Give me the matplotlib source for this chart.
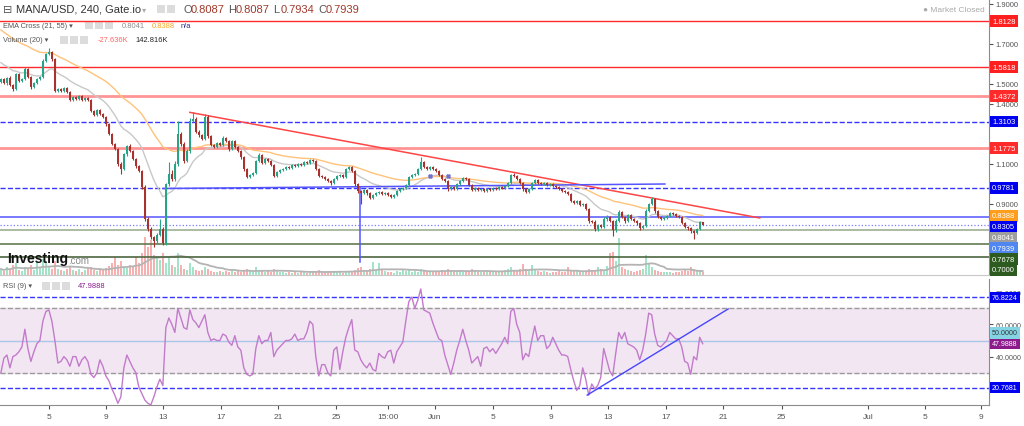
import numpy as np
import pandas as pd
import matplotlib.pyplot as plt
from matplotlib.patches import Rectangle

plt.rcParams['font.family'] = ['Liberation Sans', 'DejaVu Sans']

W, H = 1024, 427

# ---- candle data ----
open_first = 1.510
closes = [
    1.523, 1.503, 1.528, 1.493, 1.473, 1.548, 1.513, 1.523, 1.573, 1.533,
    1.483, 1.503, 1.523, 1.533, 1.613, 1.648, 1.658, 1.623, 1.463, 1.473,
    1.463, 1.478, 1.458, 1.418, 1.433, 1.423, 1.438, 1.418, 1.428, 1.418,
    1.363, 1.343, 1.368, 1.348, 1.333, 1.298, 1.248, 1.198, 1.173, 1.098,
    1.073, 1.148, 1.188, 1.163, 1.123, 1.088, 1.063, 0.983, 0.823, 0.773,
    0.733, 0.713, 0.743, 0.773, 0.703, 0.998, 1.048, 1.023, 1.098, 1.248,
    1.198, 1.113, 1.163, 1.313, 1.323, 1.258, 1.243, 1.223, 1.333, 1.238,
    1.193, 1.183, 1.203, 1.193, 1.228, 1.213, 1.173, 1.213, 1.183, 1.163,
    1.133, 1.073, 1.033, 1.043, 1.053, 1.113, 1.143, 1.103, 1.123, 1.113,
    1.093, 1.038, 1.058, 1.068, 1.073, 1.083, 1.078, 1.093, 1.088, 1.098,
    1.093, 1.108, 1.103, 1.118, 1.113, 1.073, 1.038, 1.033, 1.023, 1.013,
    1.003, 1.023, 1.038, 1.043, 1.033, 1.073, 1.083, 1.063, 0.998, 0.963,
    0.953, 0.968, 0.953, 0.928, 0.943, 0.953, 0.958, 0.948, 0.953, 0.943,
    0.933, 0.943, 0.963, 0.973, 0.978, 0.993, 1.033, 1.043, 1.048, 1.073,
    1.108, 1.083, 1.073, 1.083, 1.073, 1.063, 1.043, 1.023, 1.013, 0.973,
    0.983, 0.973, 0.998, 1.013, 1.028, 1.023, 0.993, 0.968, 0.978, 0.968,
    0.973, 0.963, 0.973, 0.968, 0.978, 0.973, 0.983, 0.978, 0.988, 1.003,
    1.043, 1.038, 1.023, 1.003, 0.973, 0.958, 0.973, 1.003, 1.018, 1.003,
    0.998, 1.003, 0.993, 0.998, 0.988, 0.983, 0.973, 0.963, 0.958, 0.948,
    0.913, 0.903, 0.913, 0.893, 0.898, 0.873, 0.813, 0.808, 0.773, 0.793,
    0.783, 0.823, 0.833, 0.813, 0.768, 0.813, 0.858, 0.833, 0.813, 0.843,
    0.823, 0.813, 0.803, 0.778, 0.788, 0.863, 0.898, 0.923, 0.863, 0.833,
    0.823, 0.828, 0.838, 0.853, 0.848, 0.838, 0.833, 0.803, 0.783, 0.778,
    0.763, 0.753, 0.773, 0.809, 0.7939,
]
# wick lengths above / below the body, in 1/1000 of price
upper_wick = [
    5, 6, 4, 8, 5, 7, 4, 6, 9, 5,
    4, 6, 5, 7, 8, 6, 20, 5, 5, 6,
    4, 5, 6, 4, 7, 3, 5, 4, 6, 3,
    5, 4, 6, 5, 4, 6, 5, 7, 6, 5,
    8, 7, 6, 8, 5, 6, 7, 6, 8, 10,
    8, 6, 10, 50, 8, 6, 60, 20, 15, 65,
    12, 10, 8, 15, 35, 10, 8, 7, 15, 8,
    6, 5, 6, 5, 8, 6, 5, 6, 5, 6,
    5, 6, 5, 4, 6, 5, 8, 5, 6, 4,
    5, 6, 4, 3, 4, 5, 3, 4, 3, 5,
    4, 3, 5, 4, 6, 4, 3, 4, 3, 4,
    3, 4, 5, 3, 4, 6, 5, 4, 5, 4,
    6, 5, 4, 3, 5, 4, 3, 4, 3, 4,
    3, 4, 3, 5, 4, 6, 5, 4, 5, 6,
    25, 6, 5, 4, 5, 4, 5, 4, 3, 5,
    4, 3, 5, 4, 6, 4, 3, 4, 3, 4,
    3, 4, 3, 4, 3, 4, 3, 4, 5, 4,
    6, 8, 5, 4, 5, 4, 3, 5, 6, 4,
    3, 4, 3, 4, 3, 4, 3, 4, 3, 4,
    5, 4, 6, 5, 4, 5, 6, 5, 8, 6,
    5, 10, 8, 6, 5, 12, 8, 6, 5, 6,
    5, 4, 5, 6, 5, 8, 6, 10, 6, 5,
    4, 5, 4, 6, 4, 5, 4, 5, 4, 5,
    4, 5, 6, 3, 0,
]
lower_wick = [
    6, 5, 8, 4, 10, 5, 6, 4, 5, 7,
    12, 5, 6, 4, 5, 6, 4, 8, 6, 5,
    5, 4, 6, 5, 4, 6, 4, 5, 4, 6,
    5, 6, 4, 5, 6, 8, 6, 5, 7, 10,
    25, 6, 8, 5, 6, 8, 7, 10, 12, 10,
    12, 30, 8, 6, 10, 8, 12, 10, 8, 10,
    8, 10, 6, 8, 7, 6, 8, 7, 6, 8,
    6, 5, 7, 5, 6, 5, 8, 6, 5, 6,
    8, 10, 6, 5, 6, 5, 4, 6, 5, 4,
    5, 6, 4, 5, 3, 4, 5, 3, 4, 3,
    4, 3, 4, 5, 3, 4, 5, 4, 6, 5,
    8, 4, 3, 5, 4, 3, 4, 5, 8, 10,
    55, 6, 8, 6, 5, 4, 5, 4, 6, 5,
    6, 5, 4, 5, 3, 4, 5, 4, 3, 4,
    5, 4, 3, 5, 4, 3, 4, 5, 6, 8,
    5, 6, 4, 3, 5, 4, 6, 5, 4, 3,
    4, 5, 3, 4, 3, 4, 5, 3, 4, 3,
    4, 5, 6, 5, 8, 6, 4, 5, 3, 4,
    5, 3, 4, 3, 5, 4, 3, 4, 5, 4,
    6, 5, 4, 5, 6, 5, 8, 6, 10, 8,
    6, 5, 8, 6, 30, 8, 6, 5, 8, 6,
    5, 6, 8, 10, 6, 5, 6, 5, 8, 6,
    5, 4, 5, 4, 6, 5, 6, 5, 6, 8,
    10, 30, 6, 5, 0.5,
]
volume_k = [
    300, 200, 400, 250, 500, 600, 250, 200, 400, 300,
    500, 250, 700, 400, 800, 600, 400, 300, 700, 300,
    250, 200, 300, 400, 250, 200, 300, 150, 250, 350,
    400, 250, 200, 300, 250, 350, 450, 600, 900, 500,
    700, 400, 350, 500, 400, 900, 600, 1100, 1900, 1400,
    1750, 1000, 900, 750, 1100, 600, 900, 500, 400, 1100,
    500, 300, 250, 600, 400, 250, 200, 250, 400, 300,
    200, 150, 150, 200, 150, 200, 150, 250, 150, 200,
    150, 250, 300, 200, 150, 400, 200, 250, 150, 200,
    150, 300, 200, 150, 150, 100, 150, 100, 150, 100,
    150, 150, 100, 150, 200, 150, 250, 200, 150, 200,
    150, 150, 150, 200, 100, 150, 200, 150, 250, 350,
    400, 250, 200, 300, 650, 250, 600, 300, 200, 150,
    150, 100, 200, 150, 250, 200, 250, 150, 200, 150,
    300, 200, 150, 200, 150, 150, 200, 250, 200, 300,
    200, 150, 200, 250, 150, 150, 200, 300, 200, 150,
    150, 150, 200, 150, 150, 200, 150, 200, 250, 300,
    400, 250, 200, 300, 550, 300, 200, 500, 250, 200,
    150, 200, 150, 100, 150, 150, 200, 150, 150, 400,
    250, 200, 250, 200, 150, 200, 300, 250, 200, 400,
    300, 200, 450, 1100, 1150, 700, 1850, 400, 300, 250,
    200, 150, 200, 250, 300, 1000, 600, 400, 250, 200,
    150, 150, 150, 150, 100, 150, 150, 200, 250, 200,
    400, 300, 250, 200, 143,
]
rsi = [
    30, 39, 41, 33, 40, 41, 43, 46, 57, 45,
    37, 43, 48, 50, 62, 68, 69, 62, 50, 36,
    37, 40, 38, 34, 40, 40, 34, 38, 40, 37,
    29, 27, 30, 38, 34, 28, 25, 20, 16, 11,
    15, 33, 41, 37, 33, 30, 21, 17, 13, 11,
    10, 15, 21, 26, 22, 58, 64, 60, 55, 70,
    64, 58, 57, 69, 63, 61, 58, 62, 66, 55,
    50, 51, 50, 50, 54, 53, 49, 47, 53, 46,
    44, 33, 29, 28, 29, 45, 53, 48, 50, 50,
    55, 40, 44, 46, 48, 50, 50, 51, 54, 50,
    51, 51, 55, 62, 60, 40, 28, 35, 35, 30,
    28, 44, 46, 32, 43, 52, 58, 63, 44, 43,
    38, 35, 33, 36, 32, 31, 42, 40, 39, 43,
    44, 36, 43, 46, 49, 62, 74, 77, 70, 75,
    82, 69, 68, 67, 61, 56, 51, 50, 41, 35,
    29, 36, 44, 50, 57, 50, 44, 36, 38, 40,
    34, 45, 46, 43, 45, 42, 45, 48, 52, 48,
    68, 70, 60, 55, 38, 42, 40, 50, 59, 50,
    53, 53, 45, 47, 52, 48, 44, 41, 41, 40,
    32, 25, 19, 22, 33, 26, 16, 23, 20, 22,
    27, 45, 38, 31, 28, 42, 55, 51, 55, 48,
    47, 46, 44, 38, 44, 54, 67, 66, 54, 47,
    46, 48, 50, 55, 53, 51, 51, 46, 37, 36,
    29, 40, 38, 52, 47.99,
]
assert len(closes) == len(upper_wick) == len(lower_wick) == len(volume_k) == len(rsi)

ema_seed_21 = 1.615
ema_seed_55 = 1.780
cross_idx = [143, 149]
cross_price = [1.038, 1.038]

# horizontal price levels drawn on the chart
level_prices = [1.8128, 1.5818, 1.4372, 1.3103, 1.1775, 0.9781, 0.8305, 0.7939, 0.7678, 0.7000, 0.6350]
level_colors = ['#ff2a2a', '#ff2a2a', '#ff9494', '#3535ff', '#ff9494', '#3535ff', '#6262ff', '#7a7aff',
                '#a7b59c', '#627a52', '#4d6641']
level_styles = ['-', '-', '-', '--', '-', '--', '-', ':', '-', '-', '-']
level_widths = [1.0, 1.0, 2.0, 1.0, 2.0, 1.0, 1.2, 0.9, 1.3, 1.2, 1.2]

# hand drawn lines
trend_x, trend_y = [63.0, 253.0], [1.356, 0.828]
support_x, support_y = [54.0, 221.4], [0.9753, 0.9978]
vline_x, vline_y = 119.7, [0.983, 0.606]
rsi_trend_x, rsi_trend_y = [195.5, 242.5], [16.1, 69.6]

# right side value boxes
price_tags = [(1.8128, '#ff1f1f', 'white'), (1.5818, '#ff1f1f', 'white'), (1.4372, '#ff2a2a', 'white'),
              (1.3103, '#0000f0', 'white'), (1.1775, '#ff2a2a', 'white'), (0.9781, '#0000f0', 'white'),
              (0.8388, '#ff9d1c', 'white'), (0.8305, '#0000f0', 'white'), (0.8041, '#9e9e9e', 'white'),
              (0.7939, '#4f86f0', 'white'), (0.7678, '#2d5a1e', 'white'), (0.7000, '#2d5a1e', 'white')]
rsi_tags = [(76.8224, '#0000f0', 'white'), (50.0, '#84d4e4', '#333333'),
            (47.9888, '#8b1a8b', 'white'), (20.7681, '#0000f0', 'white')]

# axis ticks that stay visible next to the value boxes
price_ticks = [0.9, 1.0, 1.1, 1.2, 1.4, 1.5, 1.7, 1.9]
rsi_ticks = [40, 60, 80]
tick_pos = [16.1, 35.0, 54.1, 73.3, 92.5, 111.9, 129.1, 144.7, 164.1, 183.4, 202.5,
            221.7, 240.8, 260.3, 289.1, 308.0, 326.9]
tick_labels = ['5', '9', '13', '17', '21', '25', '15:00', 'Jun', '5', '9', '13',
               '17', '21', '25', 'Jul', '5', '9']


def ema(values, n, seed, step=1.25):
    # one point here spans 1.25 of the 240 min candles
    a = 1 - (1 - 2 / (n + 1)) ** step
    out, e = [], seed
    for v in values:
        e = e + a * (v - e)
        out.append(e)
    return out


def fx(px):
    return px / W


def fy(py):
    return 1 - py / H


idx = np.arange(len(closes))
c = np.array(closes)
o = np.array([open_first] + closes[:-1])
hi = np.maximum(o, c) + np.array(upper_wick) / 1000
lo = np.minimum(o, c) - np.array(lower_wick) / 1000
up = c >= o
col = np.where(up, '#27a386', '#a8322d')
vcol = np.where(up, '#a3e4c8', '#f7b0b0')

fig = plt.figure(figsize=(W / 100, H / 100), dpi=100)
ax = fig.add_axes([0, fy(276), fx(988.5), 276 / H])
rax = fig.add_axes([0, fy(406), fx(988.5), 126 / H])

# volume underneath the candles
vax = ax.twinx()
vax.bar(idx, volume_k, width=0.7, color=vcol, zorder=1)
vax.plot(idx, pd.Series(volume_k).rolling(16, min_periods=1).mean(), color='#b4b4b4', lw=1.3)
vax.set_ylim(0, 13800)
vax.axis('off')
vax.set_zorder(0)
ax.set_zorder(1)
ax.patch.set_visible(False)

for p, cl, ls, lw in zip(level_prices, level_colors, level_styles, level_widths):
    ax.axhline(p, color=cl, ls=ls, lw=lw, zorder=1)

# candles
ax.vlines(idx, lo, hi, color=col, lw=0.8, zorder=3)
body = np.maximum(np.abs(c - o), 0.003)
ax.bar(idx, body, bottom=np.minimum(o, c), width=0.75, color=col, zorder=3)

ax.plot(idx, ema(closes, 21, ema_seed_21), color='#c8c8c8', lw=1.0, zorder=2)
ax.plot(idx, ema(closes, 55, ema_seed_55), color='#ffc27a', lw=1.0, zorder=2)
ax.plot(cross_idx, cross_price, 'X', color='#7070d0', ms=2.5, zorder=4)

ax.plot(trend_x, trend_y, color='#ff4545', lw=1.1, zorder=2)
ax.plot(support_x, support_y, color='#5555ff', lw=1.1, zorder=2)
ax.plot([vline_x, vline_x], vline_y, color='#5555ff', lw=1.1, zorder=2)

ax.set_xlim(-0.3, 329.3)
ax.set_ylim(0.5428, 1.9228)
ax.yaxis.tick_right()
ax.set_yticks(price_ticks)
ax.yaxis.set_major_formatter(plt.FormatStrFormatter('%.4f'))
ax.tick_params(axis='y', labelsize=5.5, colors='#555555', length=3, pad=2)
ax.set_xticks([])
for s in ['top', 'left']:
    ax.spines[s].set_visible(False)
ax.spines['right'].set_color('#8c8c8c')
ax.spines['bottom'].set_color('#c8c8c8')

# RSI panel
rax.axhspan(30, 70, color='#f3e6f3', zorder=0)
rax.axhline(70, color='#9a9a9a', ls='--', lw=1.0)
rax.axhline(30, color='#9a9a9a', ls='--', lw=1.0)
rax.axhline(50, color='#a9c6e8', lw=1.0)
rax.axhline(76.8224, color='#3535ff', ls='--', lw=1.0)
rax.axhline(20.7681, color='#3535ff', ls='--', lw=1.0)
rax.plot(idx, rsi, color='#c27acb', lw=1.0)
rax.plot(rsi_trend_x, rsi_trend_y, color='#4646ff', lw=1.0)
rax.set_xlim(-0.3, 329.3)
rax.set_ylim(9.94, 88.2)
rax.yaxis.tick_right()
rax.set_yticks(rsi_ticks)
rax.yaxis.set_major_formatter(plt.FormatStrFormatter('%.4f'))
rax.tick_params(axis='y', labelsize=5.1, colors='#555555', length=3, pad=2)
rax.set_xticks(tick_pos)
rax.set_xticklabels(tick_labels)
rax.tick_params(axis='x', labelsize=6, colors='#555555', length=3, pad=3)
for s in ['top', 'left']:
    rax.spines[s].set_visible(False)
rax.spines['right'].set_color('#8c8c8c')
rax.spines['bottom'].set_color('#8c8c8c')


def side_tags(axis, tags, size, push_down=True, gap=10.8):
    pts = []
    for v, fc, tc in tags:
        pts.append([axis.transData.transform((0, v))[1], v, fc, tc])
    pts.sort(key=lambda q: -q[0] if push_down else q[0])
    prev = None
    for q in pts:
        if prev is not None:
            if push_down and q[0] > prev - gap:
                q[0] = prev - gap
            if not push_down and q[0] < prev + gap:
                q[0] = prev + gap
        prev = q[0]
        fig.text(fx(992), q[0] / H, '%.4f' % q[1], fontsize=size, color=q[3], va='center', ha='left',
                 bbox=dict(boxstyle='square,pad=0.3', fc=q[2], ec='none'))


side_tags(ax, price_tags, 5.5, push_down=True)
side_tags(rax, rsi_tags, 5.1, push_down=False)


def icons(xs, y):
    for x in xs:
        fig.add_artist(Rectangle((fx(x), fy(y + 4)), 8 / W, 8 / H, transform=fig.transFigure,
                                 fc='#dcdcdc', ec='none'))


# header texts
fig.text(fx(3), fy(10), '\u229f', fontsize=8, color='#555555', va='center', family=['DejaVu Sans'])
fig.text(fx(16), fy(10), 'MANA/USD, 240, Gate.io', fontsize=8, color='#333333', va='center')
fig.text(fx(142), fy(10), '\u25be', fontsize=6, color='#aaaaaa', va='center', family=['DejaVu Sans'])
icons([157, 167], 10)
for px, letter, val in zip([183, 228, 273, 318], ['O', 'H', 'L', 'C'],
                           ['0.8087', '0.8087', '0.7934', '0.7939']):
    fig.text(fx(px), fy(10), letter, fontsize=8, color='#555555', va='center')
    fig.text(fx(px + 7.5), fy(10), val, fontsize=8, color='#a0392b', va='center')

fig.text(fx(3), fy(26), 'EMA Cross (21, 55) \u25be', fontsize=5.3, color='#555555', va='center')
icons([85, 95, 105], 26)
fig.text(fx(122), fy(26), '0.8041', fontsize=5.4, color='#8a8a8a', va='center')
fig.text(fx(152), fy(26), '0.8388', fontsize=5.4, color='#f5a623', va='center')
fig.text(fx(181), fy(26), 'n/a', fontsize=5.4, color='#2e2e8a', va='center')

fig.text(fx(3), fy(41), 'Volume (20) \u25be', fontsize=5.3, color='#555555', va='center')
icons([60, 70, 80], 41)
fig.text(fx(98), fy(41), '-27.636K', fontsize=5.4, color='#ff6464', va='center')
fig.text(fx(135), fy(41), '142.816K', fontsize=5.4, color='#222222', va='center')

fig.text(fx(985), fy(10), '\u25cf Market Closed', fontsize=6, color='#aaaaaa', va='center', ha='right')

fig.text(fx(3), fy(287), 'RSI (9) \u25be', fontsize=5.3, color='#555555', va='center')
icons([42, 52, 62], 287)
fig.text(fx(78), fy(287), '47.9888', fontsize=5.4, color='#8b1a8b', va='center')

# logo
fig.text(fx(7), fy(259), 'Investing', fontsize=10, fontweight='bold', color='#111111', va='center')
fig.text(fx(68), fy(261), '.com', fontsize=7, color='#888888', va='center')

fig.savefig('out.png', dpi=100, facecolor='white')
